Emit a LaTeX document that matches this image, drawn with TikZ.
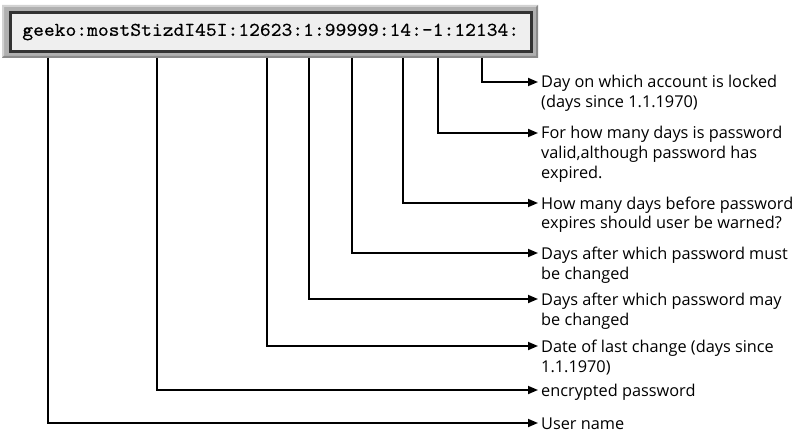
\documentclass[tikz,border=0pt]{standalone}
\usepackage{fontspec}
\setmainfont{Open Sans}
\newfontfamily\monof{lmmono10-regular}[Extension=.otf,FakeBold=0.4,FakeStretch=1.055]
\usetikzlibrary{arrows.meta}
\definecolor{framegray}{HTML}{B0B0B0}
\definecolor{framelight}{HTML}{D2D2D2}
\definecolor{framedark}{HTML}{8A8A8A}
\definecolor{boxfill}{HTML}{EFEFEF}
\definecolor{boxline}{HTML}{333333}
\begin{document}
\begin{tikzpicture}[x=1pt,y=-1pt,
  conn/.style={line width=1.7pt,-{Triangle[length=10pt,width=8pt]}},
  lab/.style={anchor=base west,inner xsep=3pt,inner ysep=0pt,
    font=\fontsize{16.3}{20}\selectfont},
  recbox/.style={draw=boxline,line width=3pt,fill=boxfill,outer sep=0pt,
    minimum width=520.5pt,minimum height=39pt,inner sep=0pt,
    font=\monof\fontsize{19.5}{20}\selectfont}
]
\useasboundingbox (0,0) rectangle (801,433);
% bevelled grey frame
\fill[framegray] (2,5) rectangle (538,58);
\fill[framelight] (2,5) -- (538,5) -- (536,7) -- (4,7) -- (4,56) -- (2,58) -- cycle;
\fill[framedark] (538,5) -- (538,58) -- (2,58) -- (4,56) -- (536,56) -- (536,7) -- cycle;
\node[recbox] (box) at (270.75,32) {geeko:mostStizdI45I:12623:1:99999:14:-1:12134:};

% start points on the frame
\coordinate (s1) at (48,58);
\coordinate (s2) at (157,58);
\coordinate (s3) at (267,58);
\coordinate (s4) at (309,58);
\coordinate (s5) at (352,58);
\coordinate (s6) at (403,58);
\coordinate (s7) at (438,58);
\coordinate (s8) at (482,58);

% labels
\node[lab] (l8) at (538,88) {\begin{tabular}[t]{@{}l@{}}Day on which account is locked\\(days since 1.1.1970)\end{tabular}};
\node[lab] (l7) at (538,139) {\begin{tabular}[t]{@{}l@{}}For how many days is password\\valid,although password has\\expired.\end{tabular}};
\node[lab] (l6) at (538,209) {\begin{tabular}[t]{@{}l@{}}How many days before password\\expires should user be warned?\end{tabular}};
\node[lab] (l5) at (538,259) {\begin{tabular}[t]{@{}l@{}}Days after which password must\\be changed\end{tabular}};
\node[lab] (l4) at (538,305) {\begin{tabular}[t]{@{}l@{}}Days after which password may\\be changed\end{tabular}};
\node[lab] (l3) at (538,352) {\begin{tabular}[t]{@{}l@{}}Date of last change (days since\\1.1.1970)\end{tabular}};
\node[lab] (l2) at (538,396) {\begin{tabular}[t]{@{}l@{}}encrypted password\end{tabular}};
\node[lab] (l1) at (538,429) {\begin{tabular}[t]{@{}l@{}}User name\end{tabular}};

% connectors
\foreach \i in {1,...,8}{
  \draw[conn] (s\i) |- ([yshift=6pt]l\i.base west);
}
\end{tikzpicture}
\end{document}
